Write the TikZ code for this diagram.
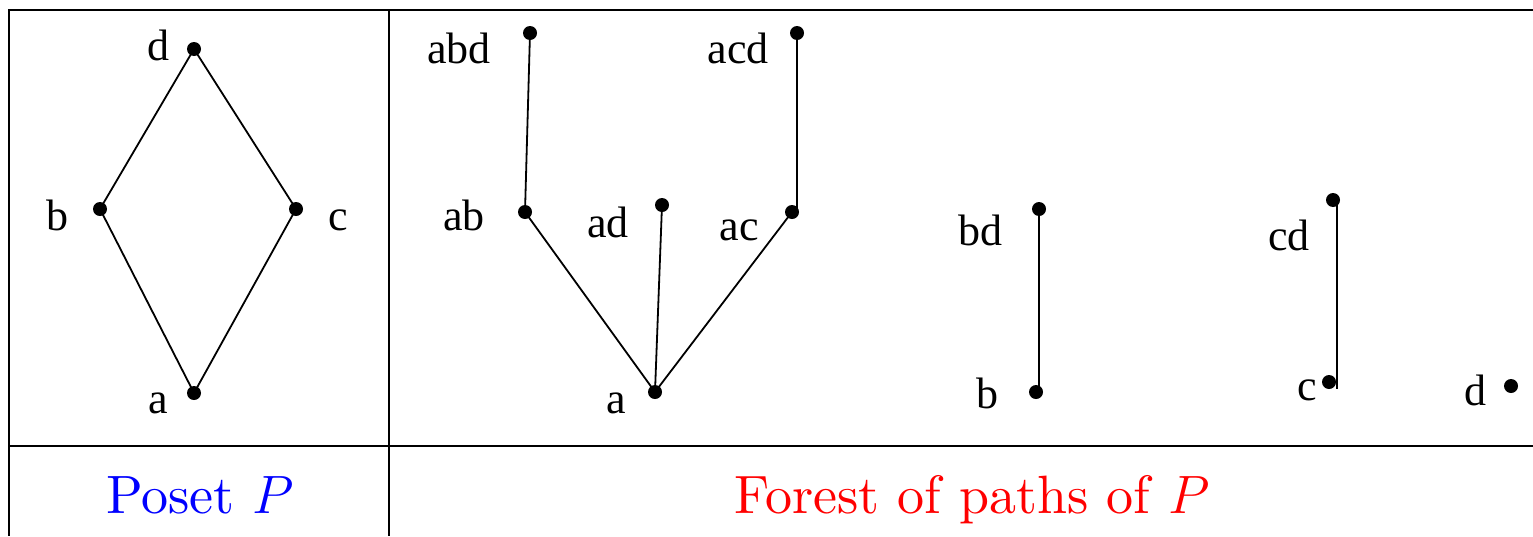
\RequirePackage{fix-cm}
\documentclass[tikz,border=0pt]{standalone}
\usepackage{fontspec}
\newfontfamily\lblfont{Liberation Serif}
\newfontfamily\capfont{lmroman10-regular}[Extension=.otf]
\begin{document}
\begin{tikzpicture}[x=1pt,y=-1pt,
  dot/.style={circle,fill=black,inner sep=0pt,minimum size=14pt},
  lbl/.style={anchor=base,inner sep=0pt,font=\lblfont\fontsize{44}{48}\selectfont},
  conn/.style={line width=1.8pt},
  framel/.style={line width=2.4pt},
  captxt/.style={anchor=base,inner sep=0pt,font=\capfont\fontsize{54}{60}\selectfont}]
\useasboundingbox (0,0) rectangle (1533,536);
% frame
\draw[framel] (1533,10) -- (9,10) -- (9,536);
\draw[framel] (389,10) -- (389,536);
\draw[framel] (9,446) -- (1533,446);
% poset
\node[dot] (pd) at (194,49) {};
\node[dot] (pb) at (100,209) {};
\node[dot] (pc) at (296,209) {};
\node[dot] (pa) at (194,393) {};
\draw[conn] (pa.center) -- (pb.center) -- (pd.center) -- (pc.center) -- (pa.center);
\node[lbl] (lpd) at (158,60) {d};
\node[lbl] (lpb) at (57,230) {b};
\node[lbl] (lpc) at (338,230) {c};
\node[lbl] (lpa) at (158,413) {a};
% forest
\node[dot] (abd) at (530,33) {};
\node[dot] (ab) at (525,212) {};
\node[dot] (ad) at (662,205) {};
\node[dot] (ac) at (792,212) {};
\node[dot] (acd) at (797,33) {};
\node[dot] (a) at (655,392) {};
\draw[conn] (abd.center) -- (ab.center) -- (a.center);
\draw[conn] (acd.center) -- (acd.center |- ac.center) -- (ac.center) -- (a.center);
\draw[conn] (ad.center) -- (a.center);
\node[lbl] (labd) at (459,63) {abd};
\node[lbl] (lacd) at (738,63) {acd};
\node[lbl] (lab) at (464,230) {ab};
\node[lbl] (lad) at (608,237) {ad};
\node[lbl] (lac) at (739,240) {ac};
\node[lbl] (la) at (616,413) {a};
\node[dot] (bd) at (1039,209) {};
\node[dot] (b) at (1036,392) {};
\draw[conn] (bd.center) -- (bd.center |- b.center);
\node[lbl] (lbd) at (980,245) {bd};
\node[lbl] (lb) at (987,408) {b};
\node[dot] (cd) at (1333,200) {};
\node[dot] (c) at (1329,382) {};
\draw[conn] ([xshift=4pt]cd.center) -- ([xshift=4pt]cd.center |- c.south);
\node[lbl] (lcd) at (1289,250) {cd};
\node[lbl] (lc) at (1307,400) {c};
\node[dot] (d) at (1511,386) {};
\node[lbl] (ld) at (1475,405) {d};
% captions
\node[captxt,text=blue] (cap1) at (200,513) {Poset $P$};
\node[captxt,text=red] (cap2) at (972,513) {Forest of paths of $P$};
\end{tikzpicture}
\end{document}
